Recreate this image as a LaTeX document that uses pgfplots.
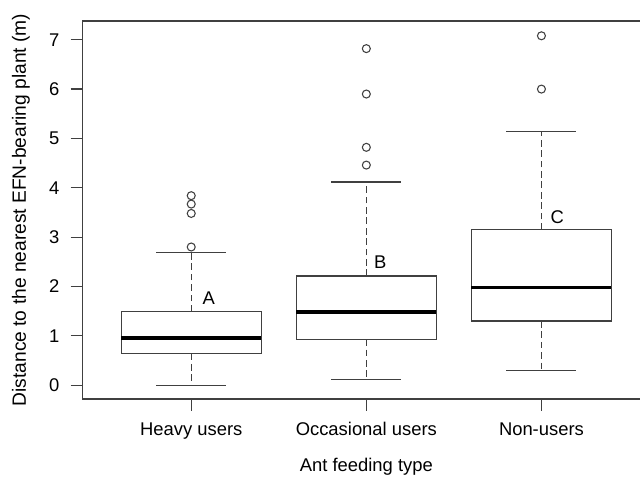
\documentclass[border=0pt]{standalone}
\usepackage{pgfplots}
\pgfplotsset{compat=1.18}
\usepgfplotslibrary{statistics}
\usepackage{fontspec}
\setmainfont{Liberation Sans}

\definecolor{boxgray}{HTML}{404040}

% R style whiskers: dashed stem, solid staple
\pgfplotsset{
  boxplot/draw/lower whisker/.code={
    \draw[boxgray, line width=1pt, dash pattern=on 5pt off 2.8pt]
      (boxplot cs:\pgfplotsboxplotvalue{lower quartile}) --
      (boxplot cs:\pgfplotsboxplotvalue{lower whisker});
    \draw[boxgray, line width=1pt]
      (boxplot whisker cs:\pgfplotsboxplotvalue{lower whisker},0) --
      (boxplot whisker cs:\pgfplotsboxplotvalue{lower whisker},1);
  },
  boxplot/draw/upper whisker/.code={
    \draw[boxgray, line width=1pt, dash pattern=on 5pt off 2.8pt]
      (boxplot cs:\pgfplotsboxplotvalue{upper quartile}) --
      (boxplot cs:\pgfplotsboxplotvalue{upper whisker});
    \draw[boxgray, line width=1pt]
      (boxplot whisker cs:\pgfplotsboxplotvalue{upper whisker},0) --
      (boxplot whisker cs:\pgfplotsboxplotvalue{upper whisker},1);
  },
  rbox/.style={
    boxgray, line width=1pt,
    mark=o, mark size=3pt, mark options={solid, line width=0.8pt, boxgray},
    boxplot/draw direction=y,
    boxplot/box extend=0.8, boxplot/whisker extend=0.4,
    boxplot/every median/.style={black, line width=2.8pt},
  },
}

\begin{document}
\begin{tikzpicture}
\begin{axis}[
  scale only axis,
  width=425.5pt, height=283.5pt,
  at={(0,0)}, anchor=south west,
  xmin=0.38, xmax=3.62,
  ymin=-0.28, ymax=7.38,
  xtick={1,2,3},
  xticklabels={Heavy users, Occasional users, Non-users},
  ytick={0,1,2,3,4,5,6,7},
  xtick pos=bottom, ytick pos=left,
  tick align=outside,
  major tick length=9pt,
  tick style={boxgray, line width=0.9pt},
  axis line style={boxgray, line width=0.9pt},
  font=\fontsize{13.8pt}{16pt}\selectfont,
  /pgf/number format/assume math mode=true,
  yticklabel style={xshift=-5pt},
  xticklabel style={yshift=-5pt},
  xlabel={Ant feeding type},
  ylabel={Distance to the nearest EFN-bearing plant (m)},
  xlabel style={at={(axis description cs:0.5,0)}, anchor=center, yshift=-51pt},
  ylabel style={at={(axis description cs:-0.1088,0.5)}, anchor=center,
    font=\fontsize{14.4pt}{16pt}\selectfont},
  clip=false,
]

\addplot+[rbox, boxplot prepared={
    lower whisker=0.00, lower quartile=0.64, median=0.95,
    upper quartile=1.49, upper whisker=2.69, draw position=1}]
  table[row sep=\\, y index=0] {data\\ 2.80\\ 3.48\\ 3.67\\ 3.84\\};

\addplot+[rbox, boxplot prepared={
    lower whisker=0.12, lower quartile=0.93, median=1.49,
    upper quartile=2.21, upper whisker=4.12, draw position=2}]
  table[row sep=\\, y index=0] {data\\ 4.46\\ 4.82\\ 5.90\\ 6.82\\};

\addplot+[rbox, boxplot prepared={
    lower whisker=0.30, lower quartile=1.30, median=1.98,
    upper quartile=3.15, upper whisker=5.14, draw position=3}]
  table[row sep=\\, y index=0] {data\\ 6.00\\ 7.08\\};

\node[font=\fontsize{13.8pt}{16pt}\selectfont] at (axis cs:1.10,1.77) {A};
\node[font=\fontsize{13.8pt}{16pt}\selectfont] at (axis cs:2.08,2.49) {B};
\node[font=\fontsize{13.8pt}{16pt}\selectfont] at (axis cs:3.09,3.41) {C};
\end{axis}
\pgfresetboundingbox
\path[use as bounding box] (-62pt,-58.5pt) rectangle (418pt,299.25pt);
\end{tikzpicture}
\end{document}
